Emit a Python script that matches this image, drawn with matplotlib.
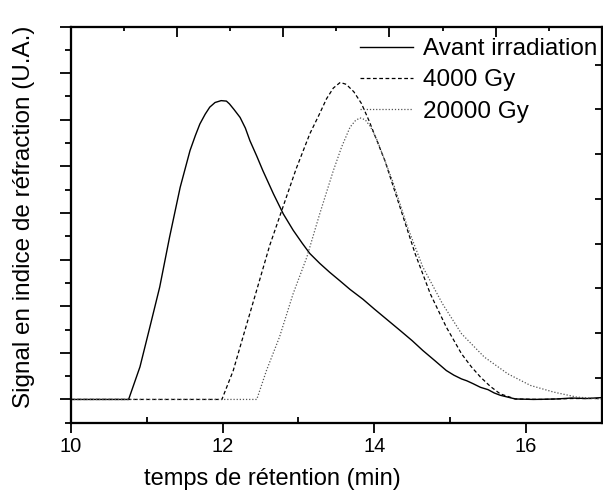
import matplotlib
matplotlib.use("Agg")
import matplotlib.pyplot as plt
from matplotlib.ticker import MultipleLocator

plt.rcParams['font.family'] = ['Liberation Sans', 'DejaVu Sans']

# before irradiation
t_avant = [10.0, 10.76, 10.91, 11.04, 11.17, 11.30, 11.44, 11.57, 11.64, 11.70, 11.77,
           11.83, 11.90, 11.98, 12.05, 12.09, 12.15, 12.23, 12.30, 12.36, 12.45, 12.53,
           12.67, 12.80, 12.93, 13.05, 13.15, 13.28, 13.41, 13.55, 13.68, 13.85, 14.0,
           14.17, 14.34, 14.50, 14.64, 14.80, 14.95, 15.05, 15.15, 15.22, 15.30, 15.40,
           15.50, 15.58, 15.66, 15.76, 15.86, 16.1, 16.4, 16.6, 16.8, 17.0]
s_avant = [0.0, 0.0, 0.70, 1.55, 2.41, 3.48, 4.55, 5.34, 5.66, 5.91, 6.12,
           6.27, 6.37, 6.41, 6.40, 6.34, 6.22, 6.05, 5.82, 5.55, 5.22, 4.91,
           4.41, 3.98, 3.63, 3.35, 3.13, 2.92, 2.73, 2.54, 2.36, 2.15, 1.94,
           1.71, 1.48, 1.26, 1.05, 0.83, 0.62, 0.52, 0.44, 0.40, 0.34, 0.26,
           0.21, 0.14, 0.09, 0.05, 0.01, 0.0, 0.01, 0.03, 0.02, 0.04]

# 4000 Gy
t_4000 = [10.0, 11.99, 12.14, 12.27, 12.45, 12.62, 12.80, 12.97, 13.15, 13.27, 13.37,
          13.46, 13.55, 13.63, 13.73, 13.83, 13.93, 14.14, 14.34, 14.54, 14.74, 14.95,
          15.15, 15.28, 15.40, 15.53, 15.66, 15.86, 16.2, 16.6, 17.0]
s_4000 = [0.0, 0.0, 0.62, 1.35, 2.35, 3.30, 4.15, 4.95, 5.70, 6.10, 6.45,
          6.68, 6.80, 6.76, 6.60, 6.35, 5.98, 5.12, 4.12, 3.12, 2.26, 1.55,
          0.98, 0.70, 0.48, 0.28, 0.12, 0.01, 0.0, 0.02, 0.02]

# 20000 Gy
t_20000 = [10.0, 12.45, 12.58, 12.75, 12.93, 13.11, 13.28, 13.46, 13.57, 13.68, 13.75,
           13.81, 13.88, 13.95, 14.04, 14.24, 14.44, 14.64, 14.90, 15.15, 15.45, 15.76,
           16.06, 16.36, 16.67, 17.0]
s_20000 = [0.0, 0.0, 0.63, 1.34, 2.27, 3.05, 3.98, 4.91, 5.42, 5.84, 5.98,
           6.04, 6.00, 5.85, 5.55, 4.69, 3.69, 2.84, 2.05, 1.41, 0.91, 0.55,
           0.30, 0.16, 0.05, 0.01]

fig = plt.figure(figsize=(6.03, 4.91), dpi=100)
ax = fig.add_axes([0.1177, 0.139, 0.8803, 0.807])

ax.plot(t_avant, s_avant, color='black', lw=1.0, label='Avant irradiation')
ax.plot(t_4000, s_4000, color='black', lw=0.9, linestyle=(0, (3, 2)), label='4000 Gy')
ax.plot(t_20000, s_20000, color='#555555', lw=0.9, linestyle=(0, (1, 1.5)), label='20000 Gy')

ax.set_xlim(10, 17)
ax.set_ylim(-0.5, 8.0)
ax.xaxis.set_major_locator(MultipleLocator(2))
ax.xaxis.set_minor_locator(MultipleLocator(1))
ax.yaxis.set_major_locator(MultipleLocator(1))
ax.yaxis.set_minor_locator(MultipleLocator(0.5))
ax.tick_params(axis='x', which='major', direction='out', length=7, width=1.3,
               labelsize=14.5, pad=3)
ax.tick_params(axis='x', which='minor', direction='in', length=4, width=1.3)
ax.tick_params(axis='y', which='major', direction='out', length=8, width=1.3,
               labelleft=False)
ax.tick_params(axis='y', which='minor', direction='out', length=4, width=1.3)
for sp in ax.spines.values():
    sp.set_linewidth(1.5)

ax.set_xlabel('temps de rétention (min)', fontsize=17)
ax.set_ylabel('Signal en indice de réfraction (U.A.)', fontsize=17.5)
ax.xaxis.set_label_coords(0.379, -0.115)
ax.yaxis.set_label_coords(-0.068, 0.52)

# top and right axes with inward ticks
ax_top = ax.twiny()
ax_top.set_xlim(0, 5)
ax_top.xaxis.set_major_locator(MultipleLocator(1))
ax_top.xaxis.set_minor_locator(MultipleLocator(0.5))
ax_top.tick_params(axis='x', which='major', direction='in', length=7, width=1.3,
                   labeltop=False)
ax_top.tick_params(axis='x', which='minor', direction='in', length=3, width=1.3)
ax_top.tick_params(axis='y', left=False, labelleft=False)
ax_right = ax.twinx()
ax_right.set_ylim(0, 8.85)
ax_right.yaxis.set_major_locator(MultipleLocator(1))
ax_right.tick_params(axis='y', which='major', direction='in', length=5, width=1.3,
                     labelright=False)
for a in (ax_top, ax_right):
    for sp in a.spines.values():
        sp.set_linewidth(1.5)

leg = ax.legend(loc='upper right', bbox_to_anchor=(1.01, 0.995), frameon=False,
                fontsize=17.5, handlelength=2.2, handletextpad=0.4,
                labelspacing=0.38, borderaxespad=0.0)

fig.savefig('out.png', dpi=100)
